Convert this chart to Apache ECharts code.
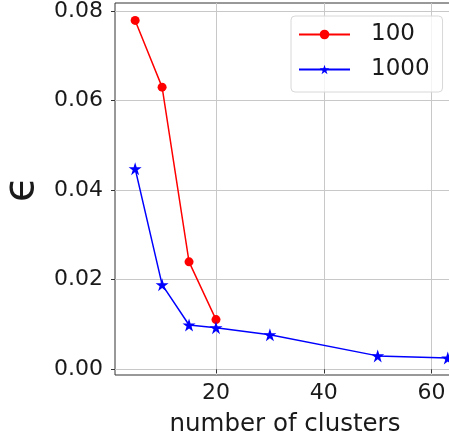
<!DOCTYPE html>
<html>
<head>
<meta charset="utf-8">
<script src="https://cdn.jsdelivr.net/npm/echarts@6/dist/echarts.min.js"></script>
<style>
  html, body { margin: 0; padding: 0; background: #fff; }
  #chart { width: 449px; height: 435px; }
</style>
</head>
<body>
<div id="chart"></div>
<script>
// Number of clusters on the x axis
const clusters100 = [5, 10, 15, 20];
const clusters1000 = [5, 10, 15, 20, 30, 50, 63];
// Error epsilon per cluster count
const eps100 = [0.0779, 0.0630, 0.0240, 0.0111];
const eps1000 = [0.0448, 0.0189, 0.0099, 0.0093, 0.0077, 0.0030, 0.0025];
// Tick values
const xTicks = [20, 40, 60];
const yTicks = [0.00, 0.02, 0.04, 0.06, 0.08];
const seriesNames = ['100', '1000'];

const pair = (xs, ys) => xs.map((x, i) => [x, ys[i]]);
const font = 'DejaVu Sans';
const txt = '#1a1a1a';
const gridColor = '#c8c8c8';

const chart = echarts.init(document.getElementById('chart'), null, { renderer: 'canvas' });
chart.setOption({
  animation: false,
  backgroundColor: '#fff',
  textStyle: { fontFamily: font },
  grid: {
    left: 115, top: 3, right: -6, bottom: 60,
    containLabel: false, outerBoundsMode: 'none',
    show: true, borderColor: '#333', borderWidth: 1, backgroundColor: 'transparent'
  },
  xAxis: {
    type: 'value', min: 1.262, max: 64.34,
    name: 'number of clusters', nameLocation: 'middle', nameGap: 37,
    nameTextStyle: { fontFamily: font, fontSize: 24.5, color: txt },
    axisLine: { show: false },
    axisTick: { show: true, length: 4, lineStyle: { color: '#333' }, customValues: xTicks },
    axisLabel: { customValues: xTicks, fontFamily: font, fontSize: 22, color: txt, margin: 7 },
    splitLine: { show: true, lineStyle: { color: gridColor, width: 1 } }
  },
  yAxis: {
    type: 'value', min: -0.00127, max: 0.08179,
    name: 'ϵ', nameLocation: 'middle', nameGap: 66, nameRotate: 90,
    nameTextStyle: { fontFamily: font, fontSize: 42, fontWeight: 'normal', color: txt },
    axisLine: { show: false },
    axisTick: { show: true, length: 4, lineStyle: { color: '#333' }, customValues: yTicks },
    axisLabel: {
      customValues: yTicks, fontFamily: font, fontSize: 22, color: txt, margin: 12,
      formatter: v => v.toFixed(2)
    },
    splitLine: { show: true, lineStyle: { color: gridColor, width: 1 } }
  },
  legend: {
    left: 291, top: 16, orient: 'vertical',
    padding: [7, 13, 11, 7], itemGap: 12,
    itemWidth: 51, itemHeight: 12,
    backgroundColor: 'rgba(255,255,255,0.8)',
    borderColor: '#d8d8d8', borderWidth: 1, borderRadius: 4,
    textStyle: { fontFamily: font, fontSize: 23, color: txt, lineHeight: 23, padding: [0, 0, 0, 16] },
    data: seriesNames
  },
  series: [
    {
      name: seriesNames[0], type: 'line', data: pair(clusters100, eps100),
      color: '#ff0000', symbol: 'circle', symbolSize: 9,
      lineStyle: { width: 1.5, color: '#ff0000' }, itemStyle: { color: '#ff0000' }, z: 3
    },
    {
      name: seriesNames[1], type: 'line', data: pair(clusters1000, eps1000),
      color: '#0000ff', symbol: 'path://M0,-10 L2.245,-3.09 L9.51,-3.09 L3.633,1.18 L5.878,8.09 L0,3.82 L-5.878,8.09 L-3.633,1.18 L-9.51,-3.09 L-2.245,-3.09 Z',
      symbolSize: 13,
      lineStyle: { width: 1.5, color: '#0000ff' }, itemStyle: { color: '#0000ff' }, z: 4
    }
  ]
});
</script>
</body>
</html>
